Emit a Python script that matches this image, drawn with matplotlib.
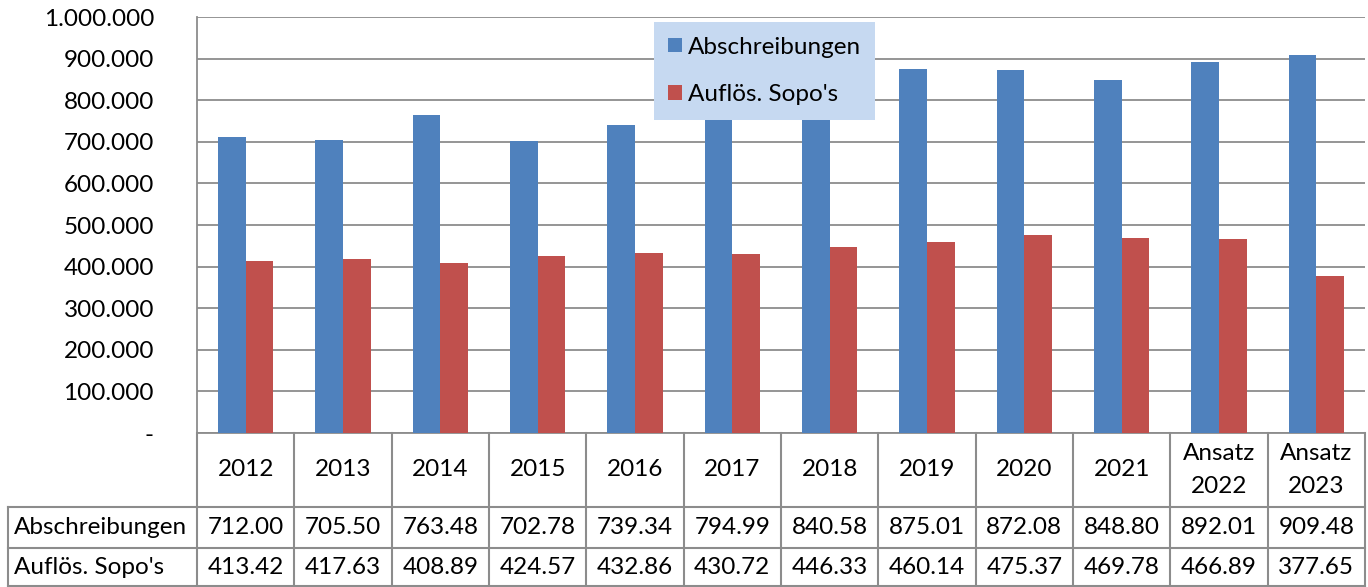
import matplotlib
matplotlib.use("Agg")
import matplotlib.pyplot as plt
from matplotlib.lines import Line2D
import numpy as np

plt.rcParams['font.family'] = ['Lato', 'DejaVu Sans']

categories = ["2012", "2013", "2014", "2015", "2016", "2017", "2018", "2019",
              "2020", "2021", "Ansatz\n2022", "Ansatz\n2023"]
abschreibungen = [712000, 705500, 763480, 702780, 739340, 794990, 840580,
                  875010, 872080, 848800, 892010, 909480]
aufloes_sopos = [413420, 417630, 408890, 424570, 432860, 430720, 446330,
                 460140, 475370, 469780, 466890, 377650]
series_names = ["Abschreibungen", "Auflös. Sopo's"]
yticks = [0, 100000, 200000, 300000, 400000, 500000, 600000, 700000,
          800000, 900000, 1000000]

BLUE = "#4F81BD"
RED = "#C0504D"
GRID = "#8C8C8C"
FS = 17.5

W, H = 1368, 587
fig = plt.figure(figsize=(W / 100, H / 100), dpi=100)
ax_l, ax_r, ax_t, ax_b = 197, 1365, 17, 433
ax = fig.add_axes([ax_l / W, (H - ax_b) / H, (ax_r - ax_l) / W, (ax_b - ax_t) / H])

n = len(categories)
x = np.arange(n)
bw = 0.283
ax.bar(x - bw / 2, abschreibungen, bw, color=BLUE, label=series_names[0], zorder=3)
ax.bar(x + bw / 2, aufloes_sopos, bw, color=RED, label=series_names[1], zorder=3)

ax.set_xlim(-0.5, n - 0.5)
ax.set_ylim(0, 1000000)
ax.set_yticks(yticks)
ax.set_yticklabels(["-" if v == 0 else f"{v:,}".replace(",", ".") for v in yticks],
                   fontsize=FS)
ax.tick_params(axis='y', length=0, pad=31)
ax.set_xticks([])
ax.grid(axis='y', color=GRID, linewidth=1.3, zorder=0)
for s in ['top', 'right']:
    ax.spines[s].set_visible(False)
ax.spines['left'].set_color(GRID)
ax.spines['left'].set_linewidth(1.3)
ax.spines['bottom'].set_color(GRID)
ax.spines['bottom'].set_linewidth(1.3)

# Legend
leg = ax.legend(loc='upper left', bbox_to_anchor=(0.391, 0.988), frameon=True,
                fancybox=False, borderaxespad=0, fontsize=FS, handlelength=0.55,
                handleheight=0.55, handletextpad=0.25, labelspacing=1.1,
                borderpad=0.6)
leg.get_frame().set_facecolor("#C6D9F1")
leg.get_frame().set_edgecolor("none")
leg.get_frame().set_alpha(1)
leg.set_zorder(10)

# Data table below the axes
tr = ax.get_xaxis_transform()
axh = ax_b - ax_t
y_hdr_bot = -(507 - ax_b) / axh
y_r1_bot = -(548 - ax_b) / axh
y_r2_bot = -(586 - ax_b) / axh
cat_w = (ax_r - ax_l) / n
x_lab_left = -0.5 - (ax_l - 8) / cat_w
x_right = n - 0.5

def hline(x0, x1, y):
    ax.add_line(Line2D([x0, x1], [y, y], transform=tr, color=GRID, lw=1.5,
                       clip_on=False))

def vline(xx, y0, y1):
    ax.add_line(Line2D([xx, xx], [y0, y1], transform=tr, color=GRID, lw=1.5,
                       clip_on=False))

hline(x_lab_left, x_right, y_hdr_bot)
hline(x_lab_left, x_right, y_r1_bot)
hline(x_lab_left, x_right, y_r2_bot)
for i in range(n + 1):
    vline(i - 0.5, 0, y_r2_bot)
vline(x_lab_left, y_hdr_bot, y_r2_bot)

for i, c in enumerate(categories):
    ax.text(i, y_hdr_bot / 2, c, transform=tr, ha='center', va='center',
            fontsize=FS, linespacing=1.65)
    ax.text(i, (y_hdr_bot + y_r1_bot) / 2, f"{abschreibungen[i] / 1000:.2f}",
            transform=tr, ha='center', va='center', fontsize=FS)
    ax.text(i, (y_r1_bot + y_r2_bot) / 2, f"{aufloes_sopos[i] / 1000:.2f}",
            transform=tr, ha='center', va='center', fontsize=FS)

lab_x = x_lab_left + 6 / cat_w
ax.text(lab_x, (y_hdr_bot + y_r1_bot) / 2, series_names[0], transform=tr,
        ha='left', va='center', fontsize=FS)
ax.text(lab_x, (y_r1_bot + y_r2_bot) / 2, series_names[1], transform=tr,
        ha='left', va='center', fontsize=FS)

fig.savefig("out.png", dpi=100)
